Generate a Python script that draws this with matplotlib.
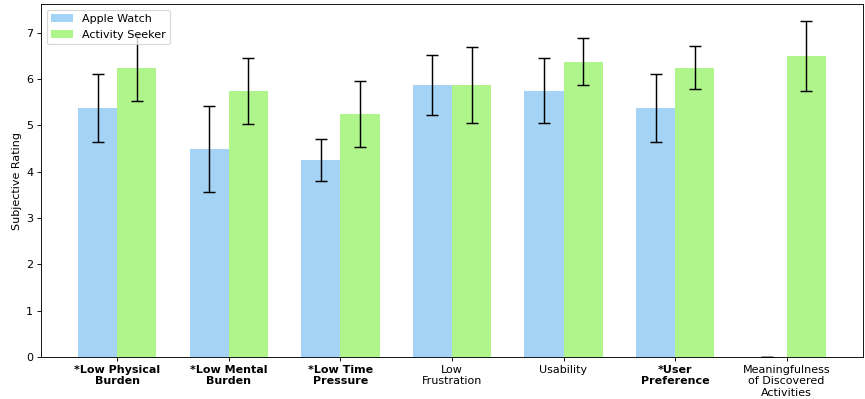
import numpy as np
import matplotlib
matplotlib.use('Agg')
import matplotlib.pyplot as plt

categories = ['*Low Physical\nBurden', '*Low Mental\nBurden', '*Low Time\nPressure',
              'Low\nFrustration', 'Usability', '*User\nPreference',
              'Meaningfulness\nof Discovered\nActivities']
apple_watch = [5.375, 4.5, 4.25, 5.875, 5.75, 5.375, 0.0]
apple_watch_err = [0.74, 0.93, 0.46, 0.64, 0.70, 0.74, 0.0]
activity_seeker = [6.25, 5.75, 5.25, 5.875, 6.375, 6.25, 6.5]
activity_seeker_err = [0.72, 0.71, 0.72, 0.83, 0.51, 0.46, 0.76]

x = np.arange(len(categories))
width = 0.35

DPI = 80
fig, ax = plt.subplots(figsize=(865 / DPI, 399 / DPI), dpi=DPI)

ax.bar(x - width / 2, apple_watch, width, yerr=apple_watch_err, capsize=5,
       error_kw={'elinewidth': 1.3, 'capthick': 1.3},
       color='#a4d3f6', label='Apple Watch')
ax.bar(x + width / 2, activity_seeker, width, yerr=activity_seeker_err, capsize=5,
       error_kw={'elinewidth': 1.3, 'capthick': 1.3},
       color='#b0f58c', label='Activity Seeker')

ax.set_ylabel('Subjective Rating')
ax.set_xticks(x)
ax.set_xticklabels(categories)
for lbl in ax.get_xticklabels():
    if lbl.get_text().startswith('*'):
        lbl.set_fontweight('bold')

ax.legend(loc='upper left')

fig.subplots_adjust(left=41 / 865, right=863 / 865, bottom=42 / 399, top=395 / 399)
fig.savefig('out.png', dpi=DPI)
